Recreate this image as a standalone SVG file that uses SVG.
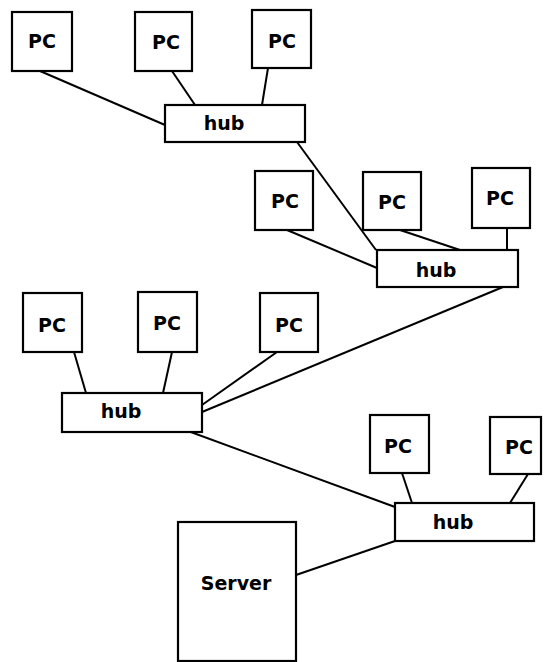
<svg xmlns="http://www.w3.org/2000/svg" width="545" height="662" viewBox="0 0 545 662">
<style>
.box{fill:#fff;stroke:#000;stroke-width:2.2}
.lbl{font-family:"DejaVu Sans",Verdana,sans-serif;font-weight:bold;font-size:19px;fill:#000;text-anchor:middle}
.con line{stroke:#000;stroke-width:2}
</style>
<rect width="545" height="662" fill="#fff"/>
<g class="con">
<line x1="40" y1="71" x2="165" y2="125"/>
<line x1="172" y1="71" x2="195" y2="105"/>
<line x1="268" y1="68" x2="262" y2="105"/>
<line x1="297" y1="142" x2="376" y2="250"/>
<line x1="287" y1="230" x2="377" y2="268"/>
<line x1="400" y1="230" x2="460" y2="250"/>
<line x1="507" y1="228" x2="507" y2="250"/>
<line x1="503" y1="287" x2="202" y2="412"/>
<line x1="74" y1="352" x2="86" y2="393"/>
<line x1="172" y1="352" x2="163" y2="393"/>
<line x1="277" y1="352" x2="202" y2="405"/>
<line x1="188" y1="431" x2="395" y2="507"/>
<line x1="402" y1="473" x2="412" y2="503"/>
<line x1="528" y1="474" x2="510" y2="503"/>
<line x1="296" y1="575" x2="395" y2="541"/>
</g>
<g id="pc1"><rect class="box" x="12" y="12" width="60" height="59"/><text class="lbl" x="42" y="48">PC</text></g>
<g id="pc2"><rect class="box" x="135" y="12" width="57" height="59"/><text class="lbl" x="166" y="49">PC</text></g>
<g id="pc3"><rect class="box" x="252" y="10" width="59" height="58"/><text class="lbl" x="282" y="48">PC</text></g>
<g id="hub1"><rect class="box" x="165" y="105" width="140" height="37"/><text class="lbl" x="224" y="130">hub</text></g>
<g id="pc4"><rect class="box" x="255" y="171" width="58" height="59"/><text class="lbl" x="285" y="208">PC</text></g>
<g id="pc5"><rect class="box" x="363" y="172" width="58" height="58"/><text class="lbl" x="392" y="209">PC</text></g>
<g id="pc6"><rect class="box" x="472" y="168" width="58" height="60"/><text class="lbl" x="500" y="205">PC</text></g>
<g id="hub2"><rect class="box" x="377" y="250" width="141" height="37"/><text class="lbl" x="436" y="277">hub</text></g>
<g id="pc7"><rect class="box" x="23" y="293" width="59" height="59"/><text class="lbl" x="52" y="332">PC</text></g>
<g id="pc8"><rect class="box" x="138" y="292" width="59" height="60"/><text class="lbl" x="167" y="330">PC</text></g>
<g id="pc9"><rect class="box" x="260" y="293" width="58" height="59"/><text class="lbl" x="289" y="332">PC</text></g>
<g id="hub3"><rect class="box" x="62" y="393" width="140" height="39"/><text class="lbl" x="121" y="418">hub</text></g>
<g id="pc10"><rect class="box" x="370" y="415" width="59" height="58"/><text class="lbl" x="398" y="453">PC</text></g>
<g id="pc11"><rect class="box" x="490" y="417" width="51" height="57"/><text class="lbl" x="519" y="454">PC</text></g>
<g id="hub4"><rect class="box" x="395" y="503" width="139" height="38"/><text class="lbl" x="453" y="529">hub</text></g>
<g id="server"><rect class="box" x="178" y="522" width="118" height="139"/><text class="lbl" x="236" y="590">Server</text></g>
</svg>
